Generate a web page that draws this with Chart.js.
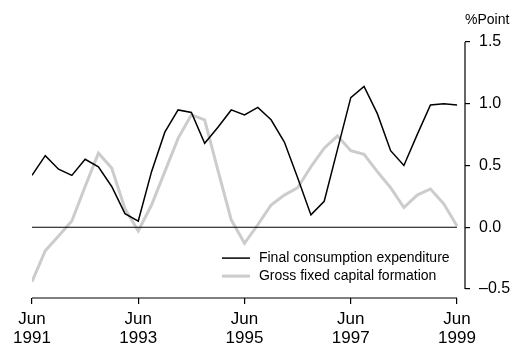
<!DOCTYPE html>
<html>
<head>
<meta charset="utf-8">
<script src="https://cdn.jsdelivr.net/npm/chart.js@4/dist/chart.umd.min.js"></script>
<style>
  html, body { margin: 0; padding: 0; background: #fff; }
  #wrap { width: 517px; height: 345px; }
</style>
</head>
<body>
<div id="wrap"><canvas id="grafico"></canvas></div>
<script>
// trimestres, de Jun 1991 a Jun 1999
const trimestres = [
  "Jun 1991", "Sep 1991", "Dec 1991", "Mar 1992", "Jun 1992", "Sep 1992", "Dec 1992", "Mar 1993",
  "Jun 1993", "Sep 1993", "Dec 1993", "Mar 1994", "Jun 1994", "Sep 1994", "Dec 1994", "Mar 1995",
  "Jun 1995", "Sep 1995", "Dec 1995", "Mar 1996", "Jun 1996", "Sep 1996", "Dec 1996", "Mar 1997",
  "Jun 1997", "Sep 1997", "Dec 1997", "Mar 1998", "Jun 1998", "Sep 1998", "Dec 1998", "Mar 1999",
  "Jun 1999"
];

const consumoFinal = [
  0.42, 0.58, 0.47, 0.42, 0.55, 0.49, 0.33, 0.11,
  0.05, 0.45, 0.77, 0.95, 0.93, 0.68, 0.81, 0.95,
  0.91, 0.97, 0.87, 0.69, 0.40, 0.10, 0.21, 0.63,
  1.05, 1.14, 0.92, 0.62, 0.50, 0.75, 0.99, 1.00,
  0.99
];

const capitalFijo = [
  -0.44, -0.19, -0.07, 0.05, 0.33, 0.60, 0.48, 0.15,
  -0.03, 0.18, 0.45, 0.72, 0.91, 0.87, 0.46, 0.06,
  -0.13, 0.02, 0.18, 0.26, 0.32, 0.49, 0.64, 0.74,
  0.62, 0.59, 0.45, 0.32, 0.16, 0.26, 0.31, 0.19,
  0.01
];

const etiquetasX = { "Jun 1991": ["Jun", "1991"], "Jun 1993": ["Jun", "1993"], "Jun 1995": ["Jun", "1995"], "Jun 1997": ["Jun", "1997"], "Jun 1999": ["Jun", "1999"] };
const ticksY = [-0.5, 0, 0.5, 1.0, 1.5];
const nombres = ["Final consumption expenditure", "Gross fixed capital formation"];
const tituloY = "%Point";

const fuente = "'Liberation Sans', Arial, sans-serif";
const colorGris = "#cccccc";

// ejes, linea del cero, leyenda y titulo dibujados a mano
const extras = {
  id: "extras",
  afterDatasetsDraw(chart) {
    const ctx = chart.ctx;
    const x = chart.scales.x;
    const y = chart.scales.y;
    const x0 = x.getPixelForValue(0);
    const x1 = x.getPixelForValue(trimestres.length - 1);
    ctx.save();
    ctx.strokeStyle = "#000";
    ctx.lineWidth = 1.2;
    // linea del cero
    ctx.beginPath();
    ctx.moveTo(x0, y.getPixelForValue(0));
    ctx.lineTo(x1, y.getPixelForValue(0));
    ctx.stroke();
    // eje x
    ctx.beginPath();
    ctx.moveTo(x0, chart.chartArea.bottom);
    ctx.lineTo(x1, chart.chartArea.bottom);
    ctx.stroke();
    // eje y
    ctx.beginPath();
    ctx.moveTo(chart.chartArea.right, y.getPixelForValue(ticksY[0]));
    ctx.lineTo(chart.chartArea.right, y.getPixelForValue(ticksY[ticksY.length - 1]));
    ctx.stroke();

    // titulo eje y
    ctx.fillStyle = "#000";
    ctx.font = "14px " + fuente;
    ctx.textAlign = "left";
    ctx.textBaseline = "middle";
    ctx.fillText(tituloY, chart.chartArea.right, y.getPixelForValue(1.5) - 22);

    // leyenda
    const lx = x.getPixelForValue(14.3);
    let ly = y.getPixelForValue(-0.25);
    chart.data.datasets.forEach((ds) => {
      ctx.strokeStyle = ds.borderColor;
      ctx.lineWidth = ds.borderWidth;
      ctx.beginPath();
      ctx.moveTo(lx, ly);
      ctx.lineTo(lx + 28, ly);
      ctx.stroke();
      ctx.fillText(ds.label, lx + 37, ly);
      ly += 18;
    });
    ctx.restore();
  }
};

const ctx = document.getElementById("grafico").getContext("2d");
const grafico = new Chart(ctx, {
  type: "line",
  data: {
    datasets: [
      {
        label: nombres[0],
        data: consumoFinal.map((v, i) => ({ x: i, y: v })),
        borderColor: "#000000",
        borderWidth: 1.5,
        pointRadius: 0,
        tension: 0,
      },
      {
        label: nombres[1],
        data: capitalFijo.map((v, i) => ({ x: i, y: v })),
        borderColor: colorGris,
        borderWidth: 3,
        pointRadius: 0,
        tension: 0,
      },
    ],
  },
  options: {
    responsive: true,
    maintainAspectRatio: false,
    animation: false,
    layout: { padding: { left: 32, top: 42, right: 0, bottom: 0 } },
    plugins: {
      legend: { display: false },
      tooltip: { enabled: false },
    },
    scales: {
      x: {
        type: "linear",
        min: 0,
        max: 32.6,
        afterBuildTicks: (s) => {
          s.ticks = Object.keys(etiquetasX).map((k) => ({ value: trimestres.indexOf(k) }));
        },
        afterFit: (s) => { s.height = 47; },
        border: { display: false },
        grid: { drawOnChartArea: false, color: "#000", tickLength: 6, lineWidth: 1.2 },
        ticks: {
          color: "#000",
          font: { family: fuente, size: 17, lineHeight: 1.1 },
          padding: 6,
          maxRotation: 0,
          autoSkip: false,
          callback: (v) => etiquetasX[trimestres[v]] || "",
        },
      },
      y: {
        position: "right",
        min: -0.573,
        max: 1.5,
        afterBuildTicks: (s) => {
          s.ticks = ticksY.map((v) => ({ value: v }));
        },
        afterFit: (s) => { s.width = 52; },
        border: { display: false },
        grid: { drawOnChartArea: false, color: "#000", tickLength: 5, lineWidth: 1.2 },
        ticks: {
          color: "#000",
          font: { family: fuente, size: 16 },
          padding: 9,
          callback: (v) => (v < 0 ? "\u2013" + Math.abs(v).toFixed(1) : v.toFixed(1)),
        },
      },
    },
  },
  plugins: [extras],
});
</script>
</body>
</html>
